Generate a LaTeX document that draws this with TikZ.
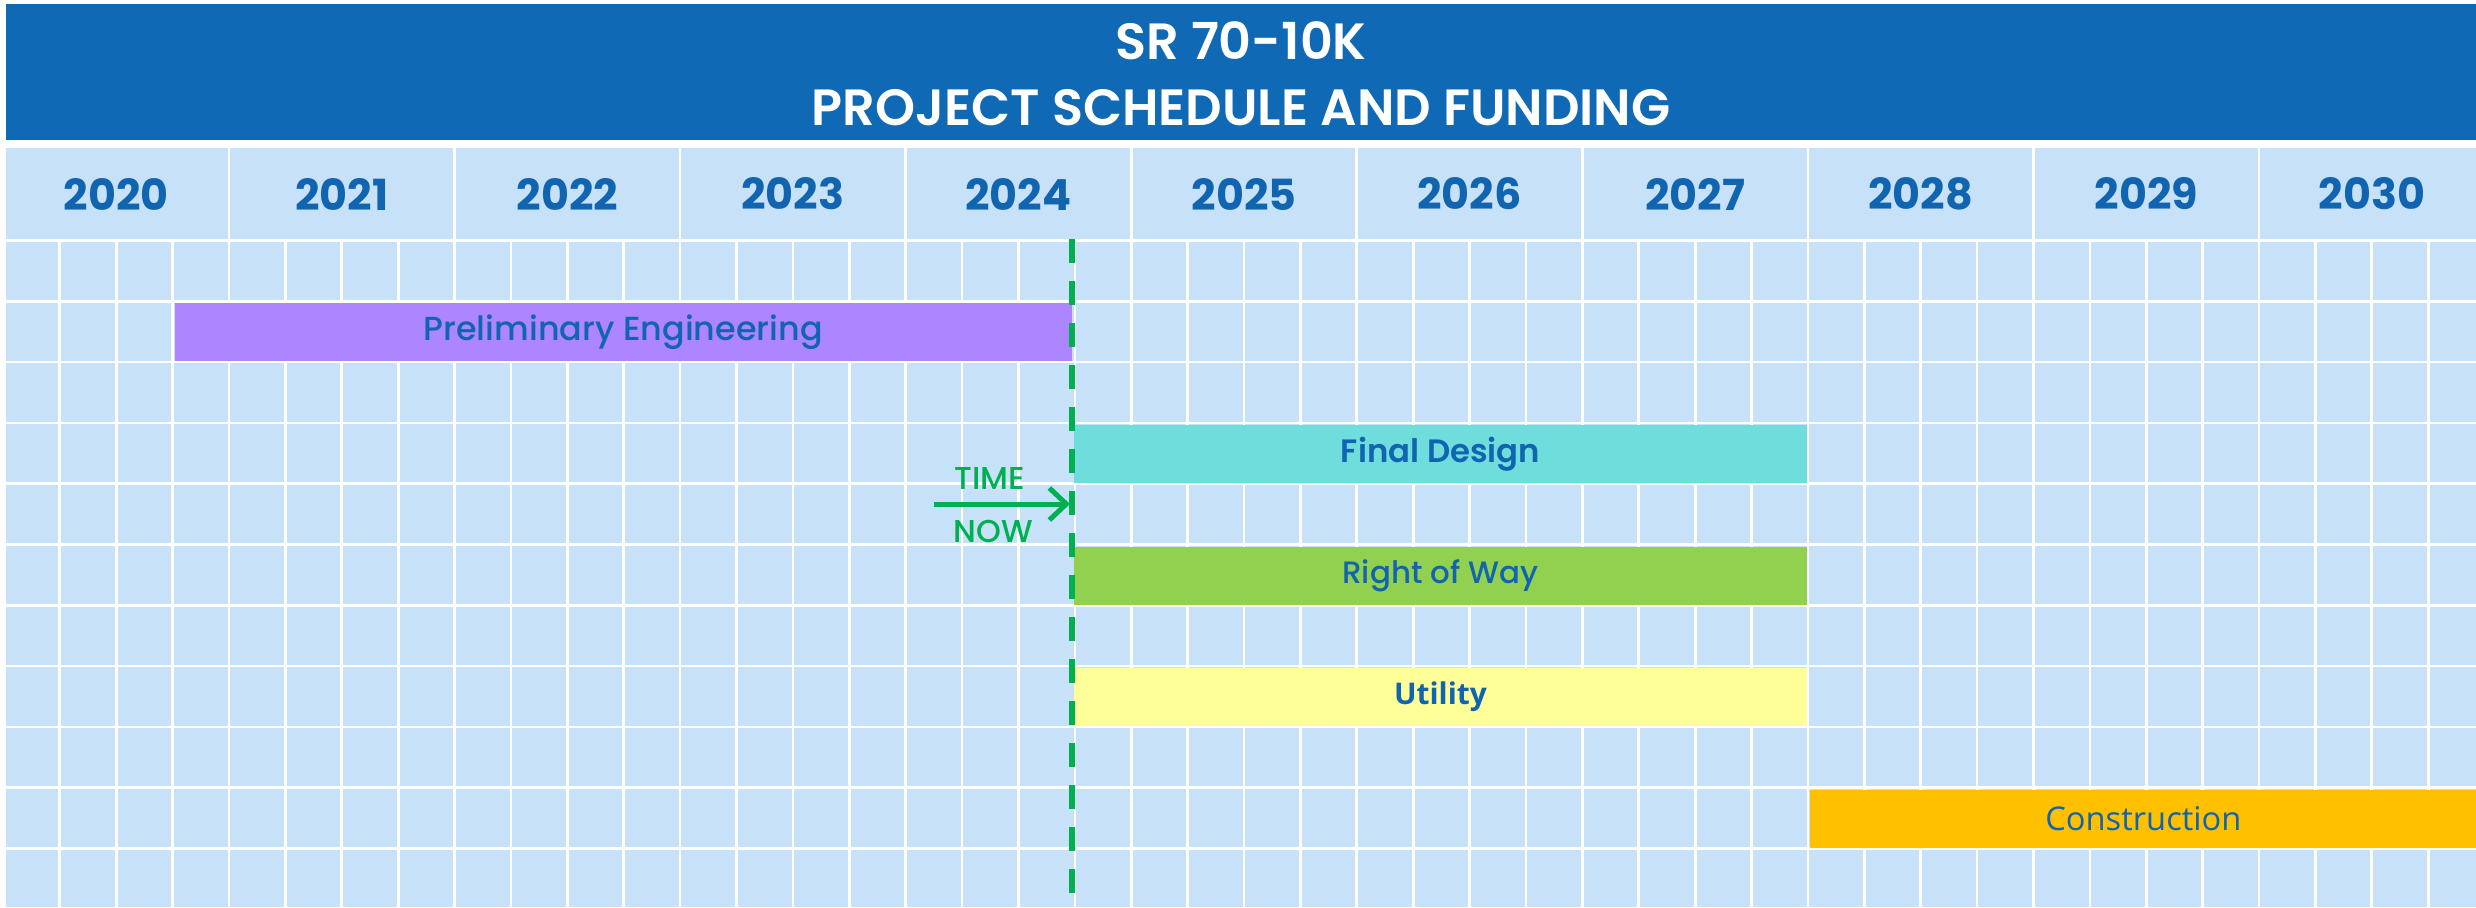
\documentclass[tikz,border=0pt]{standalone}
\usepackage{fontspec}
\setmainfont[BoldFont={Poppins SemiBold}]{Poppins}
\newfontfamily\medfont{Poppins Medium}
\newfontfamily\heavyfont{Poppins Bold}
\newfontfamily\opensans{Open Sans}
\usetikzlibrary{arrows.meta,positioning}
\tikzstyle{titletext}=[anchor=base,inner sep=0pt,text=white,font=\bfseries\fontsize{14.5}{16}\selectfont]
\tikzstyle{yearlabel}=[inner sep=0pt,text=mytextblue,font=\heavyfont\fontsize{12.2}{14}\selectfont]
\tikzstyle{gridline}=[draw=white,line width=0.27mm]
\tikzstyle{bar}=[anchor=north west,inner sep=0pt,minimum height=5.81mm,text=mytextblue,font=\medfont\fontsize{9}{11}\selectfont]
\tikzstyle{nowline}=[draw=mynowgreen,line width=0.6mm,dash pattern=on 2.4mm off 1.8mm]
\tikzstyle{nowarrow}=[draw=mynowgreen,line width=0.5mm,-{Straight Barb[length=1.7mm,width=3.2mm]}]
\tikzstyle{nowtext}=[anchor=base,inner sep=0pt,text=mynowgreen,font=\medfont\fontsize{9}{11}\selectfont]
\definecolor{mytitleblue}{RGB}{15,105,180}
\definecolor{mytextblue}{RGB}{16,100,176}
\definecolor{mycellblue}{RGB}{198,225,248}
\definecolor{mypurple}{RGB}{173,133,255}
\definecolor{myteal}{RGB}{110,221,220}
\definecolor{mygreen}{RGB}{146,208,80}
\definecolor{myyellow}{RGB}{255,255,153}
\definecolor{myorange}{RGB}{255,192,0}
\definecolor{mynowgreen}{RGB}{0,176,80}

\begin{document}
\begin{tikzpicture}[x=0.1mm,y=-0.1mm]
\useasboundingbox (0,0) rectangle (2476,907);
\fill[mytitleblue] (6,4) rectangle (2476,140);
\draw (1241,59) node [titletext] (t1) {SR 70-10K};
\draw (1241,125) node [titletext] (t2) {PROJECT SCHEDULE AND FUNDING};
\fill[mycellblue] (6,148) rectangle (2476,907);
\foreach \q in {1,...,43} \draw[gridline] (3.45+56.39*\q,240.5) -- (3.45+56.39*\q,907);
\foreach \k in {1,...,10} \draw[gridline] (3.45+225.56*\k,148) -- (3.45+225.56*\k,241);
\foreach \r in {0,...,10} \draw[gridline] (6,240.5+60.8*\r) -- (2476,240.5+60.8*\r);
\foreach \yr [count=\k from 0] in {2020,...,2030} \draw (116.2+225.56*\k,194) node [yearlabel] (y\yr) {\yr};
\draw (174,302.65) node [bar,fill=mypurple,minimum width=89.7mm,font=\medfont\fontsize{9.5}{11}\selectfont] (prelim) {Preliminary Engineering};
\draw (1073,424.25) node [bar,fill=myteal,minimum width=73.36mm,font=\bfseries\fontsize{9.2}{11}\selectfont] (final) {Final Design};
\draw (1073,545.85) node [bar,fill=mygreen,minimum width=73.36mm,font=\medfont\fontsize{8.8}{11}\selectfont] (row) {Right of Way};
\draw (1073,667.45) node [bar,fill=myyellow,minimum width=73.36mm,font=\opensans\bfseries\fontsize{8.5}{11}\selectfont] (utility) {Utility};
\draw (1809.3,789.05) node [bar,fill=myorange,minimum width=66.67mm,font=\opensans\fontsize{9.3}{11}\selectfont] (constr) {Construction};
\coordinate (nowtop) at (1072,239);
\coordinate (nowbot) at (1072,907);
\draw[nowline] (nowtop) -- (nowbot);
\coordinate (nowfrom) at (934,504);
\coordinate (nowto) at (1070,504);
\draw[nowarrow] (nowfrom) -- (nowto);
\draw (990,489) node [nowtext] (time) {TIME};
\draw (993,542) node [nowtext] (now) {NOW};
\end{tikzpicture}
\end{document}
